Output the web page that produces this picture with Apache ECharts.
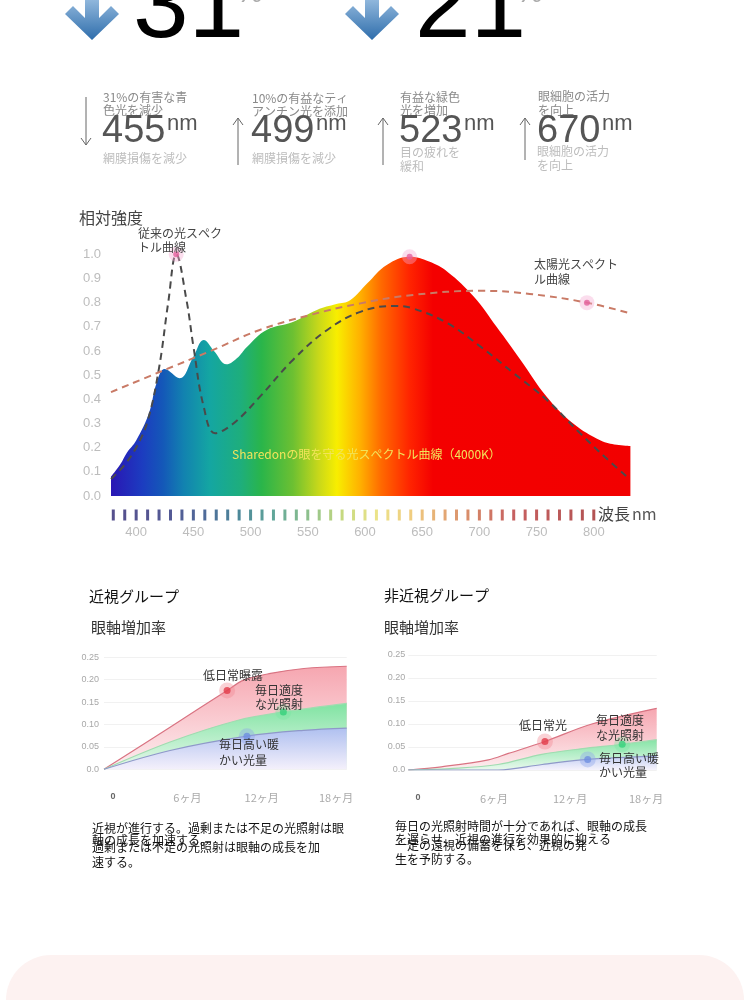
<!DOCTYPE html>
<html>
<head>
<meta charset="utf-8">
<title>光スペクトル</title>
<script src="https://cdn.jsdelivr.net/npm/echarts@6.0.0/dist/echarts.min.js"></script>
<style>
html, body { margin: 0; padding: 0; background: #fff; }
#main { width: 750px; height: 1000px; }
</style>
</head>
<body>
<div id="main"></div>
<script>
// スペクトル (波長 nm / 相対強度)
var specWl  = [378, 386, 392, 400, 411, 418, 425, 438, 450, 459, 468, 479, 488, 497, 514, 537, 558, 575, 587, 602, 619, 639, 656, 672, 695, 715, 736, 759, 782, 806, 820, 832];
var specVal = [0.08, 0.13, 0.18, 0.23, 0.34, 0.47, 0.525, 0.487, 0.576, 0.645, 0.6, 0.545, 0.57, 0.618, 0.687, 0.72, 0.77, 0.794, 0.81, 0.88, 0.956, 0.99, 0.97, 0.928, 0.825, 0.70, 0.563, 0.41, 0.30, 0.23, 0.212, 0.207];
var convWl  = [378, 390, 400, 410, 420, 428, 435, 444, 450, 459, 469, 485, 508, 537, 567, 596, 625, 642, 672, 701, 730, 759, 788, 810, 829];
var convVal = [0.07, 0.13, 0.2, 0.31, 0.53, 0.8, 1.0, 0.81, 0.62, 0.37, 0.26, 0.30, 0.41, 0.563, 0.687, 0.762, 0.786, 0.776, 0.715, 0.618, 0.508, 0.397, 0.26, 0.16, 0.08];
var sunWl   = [378, 421, 465, 508, 552, 596, 642, 701, 744, 794, 830];
var sunVal  = [0.43, 0.514, 0.60, 0.687, 0.749, 0.797, 0.832, 0.849, 0.836, 0.80, 0.758];
var wlTicks = [400, 450, 500, 550, 600, 650, 700, 750, 800];
var bandWl  = [380, 390, 400, 410, 420, 430, 440, 450, 460, 470, 480, 490, 500, 510, 520, 530, 540, 550, 560, 570, 580, 590, 600, 610, 620, 630, 640, 650, 660, 670, 680, 690, 700, 710, 720, 730, 740, 750, 760, 770, 780, 790, 800];

// 眼軸増加率 (月 / 増加率)
var monthTicks = [0, 6, 12, 18];
var nearLowX  = [0, 4.9, 9.13, 10.36, 12.35, 14.83, 18];
var nearLowY  = [0, 0.094, 0.176, 0.199, 0.214, 0.225, 0.23];
var nearMidX  = [0, 4.9, 9.87, 13.3, 18];
var nearMidY  = [0, 0.061, 0.109, 0.128, 0.147];
var nearWarmX = [0, 4.9, 10.6, 14.8, 18];
var nearWarmY = [0, 0.042, 0.074, 0.087, 0.092];
var farLowX   = [0, 2.4, 5.8, 7.25, 9.9, 13.3, 18];
var farLowY   = [0, 0.007, 0.022, 0.036, 0.062, 0.1, 0.134];
var farMidX   = [0, 3, 6.5, 9.67, 12.5, 15.5, 18];
var farMidY   = [0, 0.003, 0.012, 0.034, 0.046, 0.056, 0.066];
var farWarmX  = [0, 6.5, 9.7, 13, 18];
var farWarmY  = [0, 0, 0.012, 0.023, 0.03];

var CJK = '"Noto Sans CJK JP", sans-serif';
var LAT = '"Liberation Sans", Arial, sans-serif';

function pairs(xs, ys) {
	return xs.map(function (x, i) { return [x, ys[i]]; });
}

function hexLerp(a, b, t) {
	var pa = parseInt(a.slice(1), 16), pb = parseInt(b.slice(1), 16);
	var r = Math.round(((pa >> 16) & 255) * (1 - t) + ((pb >> 16) & 255) * t);
	var g = Math.round(((pa >> 8) & 255) * (1 - t) + ((pb >> 8) & 255) * t);
	var bl = Math.round((pa & 255) * (1 - t) + (pb & 255) * t);
	return 'rgb(' + r + ',' + g + ',' + bl + ')';
}

var tickStops = [
	[380, '#2c2470'], [430, '#28307a'], [460, '#234680'], [490, '#1f6a80'],
	[520, '#3a9080'], [550, '#70b070'], [580, '#b8d060'], [610, '#e6dc6c'],
	[640, '#ecc060'], [670, '#dc9050'], [700, '#c86040'], [730, '#b83838'], [800, '#a02828']
];
function tickColor(w) {
	for (var i = 0; i < tickStops.length - 1; i++) {
		if (w <= tickStops[i + 1][0]) {
			var t = (w - tickStops[i][0]) / (tickStops[i + 1][0] - tickStops[i][0]);
			return hexLerp(tickStops[i][1], tickStops[i + 1][1], t);
		}
	}
	return tickStops[tickStops.length - 1][1];
}

function label(x, y, s, size, color, extra) {
	var st = { text: s, fill: color, font: size + 'px ' + CJK, textAlign: 'left', textVerticalAlign: 'middle' };
	for (var k in (extra || {})) { st[k] = extra[k]; }
	return { type: 'text', x: x, y: y, silent: true, z: 10, style: st };
}

function thinArrow(x, y1, y2, up) {
	var head = up ? y1 : y2;
	var d = up ? 7 : -7;
	return [
		{ type: 'polyline', silent: true, shape: { points: [[x, y1], [x, y2]] }, style: { stroke: '#666', lineWidth: 1, fill: null } },
		{ type: 'polyline', silent: true, shape: { points: [[x - 5, head + d], [x, head], [x + 5, head + d]] }, style: { stroke: '#666', lineWidth: 1, fill: null } }
	];
}

function blueArrow(cx) {
	return {
		type: 'polygon', silent: true,
		shape: { points: [[cx - 7, -5], [cx + 7, -5], [cx + 7, 18], [cx + 19, 6], [cx + 27, 14], [cx, 40], [cx - 27, 14], [cx - 19, 6], [cx - 7, 18]] },
		style: { fill: new echarts.graphic.LinearGradient(0, 0, 0, 1, [{ offset: 0, color: '#9cc0e2' }, { offset: 1, color: '#2e6dab' }]) }
	};
}

function vGrad(top, bottom) {
	return new echarts.graphic.LinearGradient(0, 0, 0, 1, [{ offset: 0, color: top }, { offset: 1, color: bottom }]);
}

function monthLabel(v) {
	return v === 0 ? '{z|0}' : v + 'ヶ月';
}
function growthLabel(v) {
	return v === 0 ? '0.0' : v.toFixed(2);
}

var spectrumFill = new echarts.graphic.LinearGradient(0, 0, 1, 0, [
	{ offset: 0.00, color: '#2a16b4' },
	{ offset: 0.06, color: '#1c3cc0' },
	{ offset: 0.10, color: '#1458b8' },
	{ offset: 0.14, color: '#1282b0' },
	{ offset: 0.19, color: '#14a6a2' },
	{ offset: 0.25, color: '#1eae7c' },
	{ offset: 0.29, color: '#2ab54a' },
	{ offset: 0.35, color: '#6cc032' },
	{ offset: 0.40, color: '#c8d81a' },
	{ offset: 0.435, color: '#f8ee00' },
	{ offset: 0.48, color: '#ffb000' },
	{ offset: 0.52, color: '#ff6a00' },
	{ offset: 0.575, color: '#ff2400' },
	{ offset: 0.62, color: '#f40000' },
	{ offset: 1.00, color: '#f20000' }
]);

var specPeak = specVal.indexOf(Math.max.apply(null, specVal));
var convPeak = convVal.indexOf(Math.max.apply(null, convVal));
var mainMarks = [[convWl[convPeak], convVal[convPeak]], [specWl[specPeak], specVal[specPeak]], [sunWl[9], sunVal[9]]];

function smallAxisX(grid, min, max) {
	return {
		gridIndex: grid, type: 'value', min: min, max: max, position: 'bottom',
		axisLine: { show: false }, axisTick: { show: false }, splitLine: { show: false },
		axisLabel: {
			customValues: monthTicks, formatter: monthLabel, margin: 23,
			color: '#aaa', fontSize: 11, fontFamily: CJK,
			rich: { z: { color: '#666', fontSize: 9, fontWeight: 'bold', fontFamily: LAT } }
		}
	};
}
function smallAxisY(grid, margin) {
	return {
		gridIndex: grid, type: 'value', min: 0, max: 0.25, interval: 0.05,
		axisLine: { show: false }, axisTick: { show: false },
		splitLine: { lineStyle: { color: '#f1f1f1', width: 1 } },
		axisLabel: { formatter: growthLabel, fontSize: 9, color: '#a8a8a8', margin: margin, fontFamily: LAT }
	};
}
function bandSeries(xi, yi, xs, ys, lineColor, top, bottom) {
	return {
		type: 'line', xAxisIndex: xi, yAxisIndex: yi, data: pairs(xs, ys), smooth: 0.35,
		showSymbol: false, lineStyle: { color: lineColor, width: 1.2 },
		areaStyle: { color: vGrad(top, bottom), opacity: 1 }
	};
}
function dotSeries(xi, yi, pts, color, halo) {
	return [
		{ type: 'scatter', xAxisIndex: xi, yAxisIndex: yi, data: pts, symbolSize: 16, itemStyle: { color: halo }, z: 5 },
		{ type: 'scatter', xAxisIndex: xi, yAxisIndex: yi, data: pts, symbolSize: 7, itemStyle: { color: color }, z: 6 }
	];
}

var graphics = [
	{ type: 'rect', silent: true, z: 0, shape: { x: 6, y: 955, width: 738, height: 90, r: [45, 45, 0, 0] }, style: { fill: '#fdf2f1' } },
	blueArrow(92),
	blueArrow(372),
	label(133, 9, '31', 100, '#000', { font: '100px ' + LAT }),
	label(236, -6, '%', 30, '#aaa', { font: '30px ' + LAT }),
	label(415, 9, '21', 100, '#000', { font: '100px ' + LAT }),
	label(516, -6, '%', 30, '#aaa', { font: '30px ' + LAT }),

	label(103, 97, '31%の有害な青', 12, '#8a8a8a'),
	label(103, 110, '色光を減少', 12, '#8a8a8a'),
	label(102, 132, '455', 38, '#555', { font: '38px ' + LAT }),
	label(167, 124, 'nm', 22, '#555', { font: '22px ' + LAT }),
	label(103, 158, '網膜損傷を減少', 12, '#bdbdbd'),

	label(252, 98, '10%の有益なティ', 12, '#8a8a8a'),
	label(252, 111, 'アンチン光を添加', 12, '#8a8a8a'),
	label(251, 132, '499', 38, '#555', { font: '38px ' + LAT }),
	label(316, 124, 'nm', 22, '#555', { font: '22px ' + LAT }),
	label(252, 158, '網膜損傷を減少', 12, '#bdbdbd'),

	label(400, 97, '有益な緑色', 12, '#8a8a8a'),
	label(400, 110, '光を増加', 12, '#8a8a8a'),
	label(399, 132, '523', 38, '#555', { font: '38px ' + LAT }),
	label(464, 124, 'nm', 22, '#555', { font: '22px ' + LAT }),
	label(400, 152, '目の疲れを', 12, '#bdbdbd'),
	label(400, 166, '緩和', 12, '#bdbdbd'),

	label(538, 96, '眼細胞の活力', 12, '#8a8a8a'),
	label(538, 110, 'を向上', 12, '#8a8a8a'),
	label(537, 132, '670', 38, '#555', { font: '38px ' + LAT }),
	label(602, 124, 'nm', 22, '#555', { font: '22px ' + LAT }),
	label(537, 151, '眼細胞の活力', 12, '#bdbdbd'),
	label(537, 165, 'を向上', 12, '#bdbdbd'),

	label(79, 218, '相対強度', 16, '#444'),
	label(138, 233, '従来の光スペク', 12, '#444'),
	label(138, 247, 'トル曲線', 12, '#444'),
	label(534, 264, '太陽光スペクト', 12, '#444'),
	label(534, 279, 'ル曲線', 12, '#444'),
	label(232, 454, 'Sharedonの眼を守る光スペクトル曲線（4000K）', 12, '#f2e45a'),
	label(598, 514, '波長', 16, '#444'),
	label(632, 514, 'nm', 16, '#555', { font: '16px ' + CJK }),

	label(89, 596, '近視グループ', 15, '#111'),
	label(91, 627, '眼軸増加率', 15, '#333'),
	label(203, 675, '低日常曝露', 12, '#333'),
	label(255, 690, '毎日適度', 12, '#333'),
	label(255, 704, 'な光照射', 12, '#333'),
	label(219, 744, '毎日高い暖', 12, '#333'),
	label(219, 760, 'かい光量', 12, '#333'),
	label(92, 828, '近視が進行する。過剰または不足の光照射は眼', 12, '#111'),
	label(92, 840, '軸の成長を加速する。', 12, '#111'),
	label(92, 847, '過剰または不足の光照射は眼軸の成長を加', 12, '#111'),
	label(92, 862, '速する。', 12, '#111'),

	label(384, 595, '非近視グループ', 15, '#111'),
	label(384, 627, '眼軸増加率', 15, '#333'),
	label(519, 725, '低日常光', 12, '#333'),
	label(596, 720, '毎日適度', 12, '#333'),
	label(596, 735, 'な光照射', 12, '#333'),
	label(599, 758, '毎日高い暖', 12, '#333'),
	label(599, 772, 'かい光量', 12, '#333'),
	label(395, 826, '毎日の光照射時間が十分であれば、眼軸の成長', 12, '#111'),
	label(395, 839, 'を遅らせ、近視の進行を効果的に抑える', 12, '#111'),
	label(395, 845, '一定の遠視の備蓄を保ち、近視の発', 12, '#111'),
	label(395, 859, '生を予防する。', 12, '#111')
];
graphics = graphics.concat(thinArrow(86, 97, 145, false), thinArrow(238, 118, 165, true),
	thinArrow(383, 118, 165, true), thinArrow(525, 118, 160, true));

var chart = echarts.init(document.getElementById('main'));
var option = {
	animation: false,
	backgroundColor: '#fff',
	textStyle: { fontFamily: CJK },
	grid: [
		{ left: 111, top: 254.3, width: 519.4, height: 241.7 },
		{ left: 111, top: 505, width: 519.4, height: 20 },
		{ left: 104, top: 657.3, width: 242.7, height: 112 },
		{ left: 408.3, top: 655, width: 248.4, height: 115 }
	],
	xAxis: [
		{
			gridIndex: 0, type: 'value', min: 378, max: 832,
			axisLine: { show: false }, axisTick: { show: false }, splitLine: { show: false },
			axisLabel: { customValues: wlTicks, margin: 30, color: '#bdbdbd', fontSize: 13, fontFamily: LAT }
		},
		{ gridIndex: 1, type: 'value', min: 378, max: 832, show: false },
		{ gridIndex: 2, type: 'value', min: 0, max: 18, show: false },
		smallAxisX(2, -0.73, 18.86),
		{ gridIndex: 3, type: 'value', min: 0, max: 18, show: false },
		smallAxisX(3, -0.77, 18.84)
	],
	yAxis: [
		{
			gridIndex: 0, type: 'value', min: 0, max: 1, interval: 0.1,
			axisLine: { show: false }, axisTick: { show: false }, splitLine: { show: false },
			axisLabel: { formatter: function (v) { return v.toFixed(1); }, color: '#bdbdbd', fontSize: 13, margin: 10, fontFamily: LAT }
		},
		{ gridIndex: 1, type: 'value', min: 0, max: 1, show: false },
		smallAxisY(2, 5),
		smallAxisY(3, 3)
	],
	graphic: graphics,
	series: [
		{
			name: 'Sharedon', type: 'line', xAxisIndex: 0, yAxisIndex: 0,
			data: pairs(specWl, specVal), smooth: 0.4, showSymbol: false,
			lineStyle: { width: 0 }, areaStyle: { color: spectrumFill, opacity: 1 }
		},
		{
			name: '従来', type: 'line', xAxisIndex: 0, yAxisIndex: 0,
			data: pairs(convWl, convVal), smooth: 0.4, showSymbol: false,
			lineStyle: { color: '#4a4a4a', width: 2, type: [7, 5] }
		},
		{
			name: '太陽光', type: 'line', xAxisIndex: 0, yAxisIndex: 0,
			data: pairs(sunWl, sunVal), smooth: 0.4, showSymbol: false,
			lineStyle: { color: '#c97a66', width: 2, type: [7, 5] }
		},
		{ type: 'scatter', xAxisIndex: 0, yAxisIndex: 0, data: mainMarks, symbolSize: 15, itemStyle: { color: 'rgba(246,170,210,0.5)' }, z: 5 },
		{ type: 'scatter', xAxisIndex: 0, yAxisIndex: 0, data: mainMarks, symbolSize: 6, itemStyle: { color: '#e4609c' }, z: 6 },
		{
			type: 'scatter', xAxisIndex: 1, yAxisIndex: 1, symbol: 'rect', symbolSize: [3, 11],
			data: bandWl.map(function (w) { return [w, 0.5]; }),
			itemStyle: { color: function (p) { return tickColor(p.value[0]); } }
		},

		bandSeries(2, 2, nearLowX, nearLowY, '#d97382', '#f6a6b0', '#fdeef0'),
		bandSeries(2, 2, nearMidX, nearMidY, '#9fdcb0', '#80e3a2', '#e8f8ec'),
		bandSeries(2, 2, nearWarmX, nearWarmY, '#8f98c9', '#afc0f0', '#f4f0fb'),

		bandSeries(4, 3, farLowX, farLowY, '#d97382', '#f6a6b0', '#fdeef0'),
		bandSeries(4, 3, farMidX, farMidY, '#9fdcb0', '#86e4a6', '#eaf9ee'),
		bandSeries(4, 3, farWarmX, farWarmY, '#8f98c9', '#c4d0f4', '#f6f3fc')
	]
		.concat(dotSeries(2, 2, [[nearLowX[2], nearLowY[2]]], '#e23b48', 'rgba(240,130,140,0.45)'))
		.concat(dotSeries(2, 2, [[nearMidX[3], nearMidY[3]]], '#35d17a', 'rgba(120,230,160,0.45)'))
		.concat(dotSeries(2, 2, [[nearWarmX[2], nearWarmY[2]]], '#6f8ee0', 'rgba(140,165,235,0.5)'))
		.concat(dotSeries(4, 3, [[farLowX[4], farLowY[4]]], '#e23b48', 'rgba(240,130,140,0.45)'))
		.concat(dotSeries(4, 3, [[farMidX[5], farMidY[5]]], '#35d17a', 'rgba(120,230,160,0.45)'))
		.concat(dotSeries(4, 3, [[farWarmX[3], farWarmY[3]]], '#6f8ee0', 'rgba(140,165,235,0.5)'))
};
chart.setOption(option);
</script>
</body>
</html>
